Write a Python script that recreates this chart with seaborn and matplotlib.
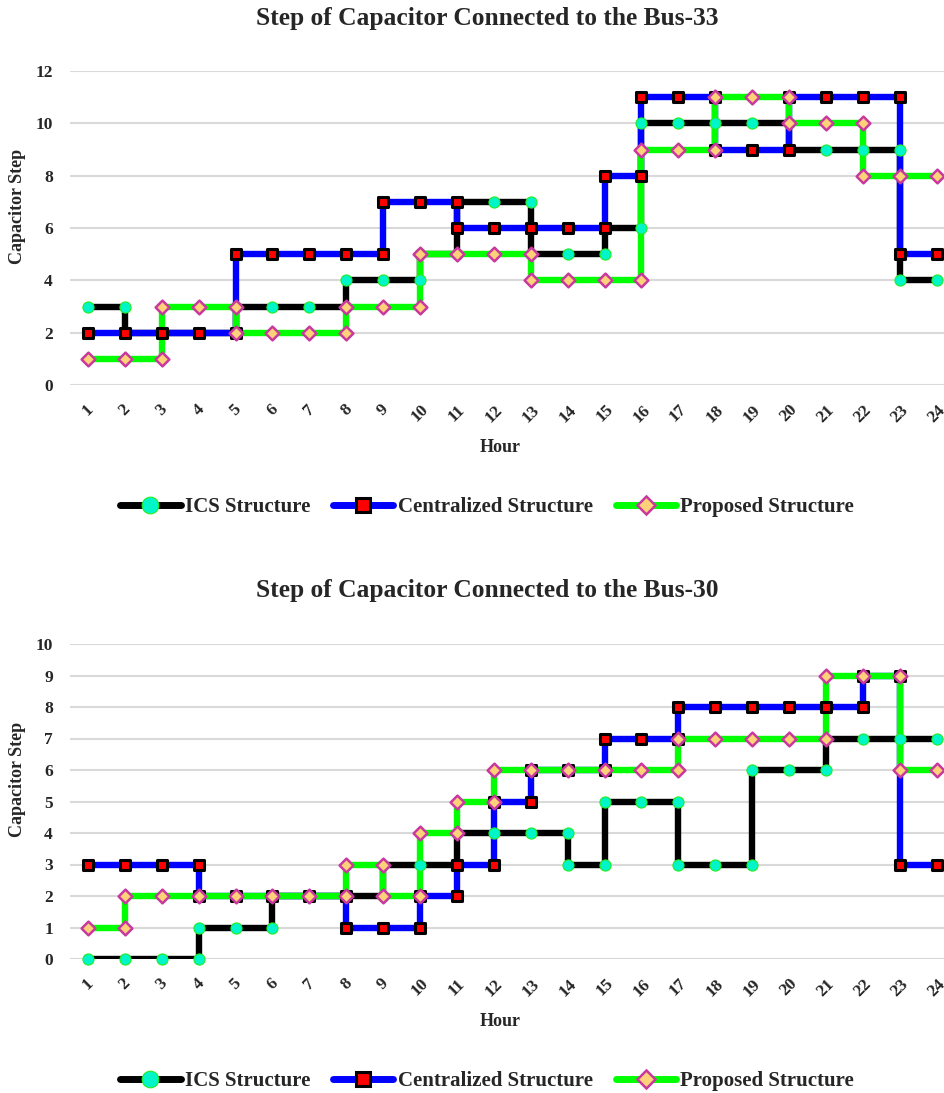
import matplotlib
matplotlib.use("Agg")
import matplotlib.pyplot as plt
from matplotlib.lines import Line2D
import pandas as pd
import seaborn as sns

# ---------------------------------------------------------------------------
# Data: capacitor step held from hour h to hour h+1 (h = 1 .. 23)
# ---------------------------------------------------------------------------
hours = list(range(1, 25))
hour_labels = [str(h) for h in hours]

bus33_ics = [3, 2, 2, 2, 3, 3, 3, 4, 4, 5, 7, 7, 5, 5, 6, 10, 10, 10, 10, 9, 9, 9, 4]
bus33_centralized = [2, 2, 2, 2, 5, 5, 5, 5, 7, 7, 6, 6, 6, 6, 8, 11, 11, 9, 9, 11, 11, 11, 5]
bus33_proposed = [1, 1, 3, 3, 2, 2, 2, 3, 3, 5, 5, 5, 4, 4, 4, 9, 9, 11, 11, 10, 10, 8, 8]

bus30_ics = [0, 0, 0, 1, 1, 2, 2, 2, 3, 3, 4, 4, 4, 3, 5, 5, 3, 3, 6, 6, 7, 7, 7]
bus30_centralized = [3, 3, 3, 2, 2, 2, 2, 1, 1, 2, 3, 5, 6, 6, 7, 7, 8, 8, 8, 8, 8, 9, 3]
bus30_proposed = [1, 2, 2, 2, 2, 2, 2, 3, 2, 4, 5, 6, 6, 6, 6, 6, 7, 7, 7, 7, 9, 9, 6]

series_names = ["ICS Structure", "Centralized Structure", "Proposed Structure"]

# ---------------------------------------------------------------------------
# Styling
# ---------------------------------------------------------------------------
sns.set_theme(style="white")
plt.rcParams["font.family"] = ["Liberation Serif", "DejaVu Serif"]
plt.rcParams["font.weight"] = "bold"
plt.rcParams["axes.labelweight"] = "bold"

styles = {
    "ICS Structure": dict(line="#000000", marker="o", face="#00F5C8", edge="#22EE22",
                          size=8.0, mew=0.8, leg_size=12.0),
    "Centralized Structure": dict(line="#0000FF", marker="s", face="#FF0000", edge="#000000",
                                  size=7.5, mew=2.2, leg_size=10.0),
    "Proposed Structure": dict(line="#00FF00", marker="D", face="#FFD27A", edge="#C8389E",
                               size=7.0, mew=1.8, leg_size=9.0),
}

W, H = 944, 1093
fig = plt.figure(figsize=(W / 100, H / 100), dpi=100)


def px_axes(top, bottom):
    left = 69.5
    width = 24 * 36.9
    return fig.add_axes([left / W, 1 - bottom / H, width / W, (bottom - top) / H])


def marker_points(seg):
    xs, ys = [], []
    for h in hours:
        vals = []
        if h > 1:
            vals.append(seg[h - 2])
        if h < 24:
            vals.append(seg[h - 1])
        for v in dict.fromkeys(vals):
            xs.append(h)
            ys.append(v)
    return pd.DataFrame({"hour": xs, "step": ys})


def draw_panel(ax, data, ymax, ystep, title, title_y, ylabel_y, hour_y):
    # step lines first, then markers on top of every line
    for i, name in enumerate(series_names):
        seg = data[name]
        df = pd.DataFrame({"hour": hours, "step": seg + [seg[-1]]})
        st = styles[name]
        sns.lineplot(data=df, x="hour", y="step", ax=ax, color=st["line"],
                     linewidth=4.6, drawstyle="steps-post", estimator=None,
                     legend=False, zorder=2 + 0.1 * i)
    for i, name in enumerate(series_names):
        st = styles[name]
        pts = marker_points(data[name])
        sns.scatterplot(data=pts, x="hour", y="step", ax=ax, marker=st["marker"],
                        s=st["size"] ** 2, color=st["face"], edgecolor=st["edge"],
                        linewidth=st["mew"], clip_on=False, legend=False,
                        zorder=4 + 0.1 * i)

    ax.set_xlim(0.5, 24.5)
    ax.set_ylim(0, ymax)
    ax.set_yticks(range(0, ymax + 1, ystep))
    ax.set_xticks(hours)
    ax.set_xticklabels(hour_labels, rotation=45, ha="center", va="top")
    ax.tick_params(axis="x", length=0, pad=12, labelsize=12.5)
    ax.tick_params(axis="y", length=0, pad=12, labelsize=12.5)
    for lbl in ax.get_xticklabels() + ax.get_yticklabels():
        lbl.set_fontweight("bold")
    ax.grid(axis="y", color="#D9D9D9", linewidth=1.5)
    ax.grid(axis="x", visible=False)
    ax.set_axisbelow(True)
    for sp in ax.spines.values():
        sp.set_visible(False)
    ax.set_xlabel("")
    ax.set_ylabel("")

    fig.text(487 / W, 1 - title_y / H, title, ha="center", va="center",
             fontsize=18.4, fontweight="bold")
    fig.text(18 / W, 1 - ylabel_y / H, "Capacitor Step", rotation=90,
             ha="center", va="center", fontsize=13, fontweight="bold")
    fig.text(500 / W, 1 - hour_y / H, "Hour", ha="center", va="center",
             fontsize=13, fontweight="bold")


def add_legend(y):
    handles = []
    for name in series_names:
        st = styles[name]
        handles.append(Line2D([], [], color=st["line"], linewidth=5,
                              marker=st["marker"], markerfacecolor=st["face"],
                              markeredgecolor=st["edge"], markersize=st["leg_size"],
                              markeredgewidth=st["mew"], label=name))
    fig.legend(handles=handles, loc="center", bbox_to_anchor=(487 / W, 1 - y / H),
               ncol=3, frameon=False, handlelength=2.9, handletextpad=0.2,
               columnspacing=1.1, prop={"size": 15, "weight": "bold"})


ax_top = px_axes(71, 385)
draw_panel(ax_top,
           {"ICS Structure": bus33_ics,
            "Centralized Structure": bus33_centralized,
            "Proposed Structure": bus33_proposed},
           12, 2, "Step of Capacitor Connected to the Bus-33", 18, 206, 447)
add_legend(507)

ax_bot = px_axes(644, 959)
draw_panel(ax_bot,
           {"ICS Structure": bus30_ics,
            "Centralized Structure": bus30_centralized,
            "Proposed Structure": bus30_proposed},
           10, 1, "Step of Capacitor Connected to the Bus-30", 591, 779, 1021)
add_legend(1081)

fig.savefig("out.png", dpi=100)
